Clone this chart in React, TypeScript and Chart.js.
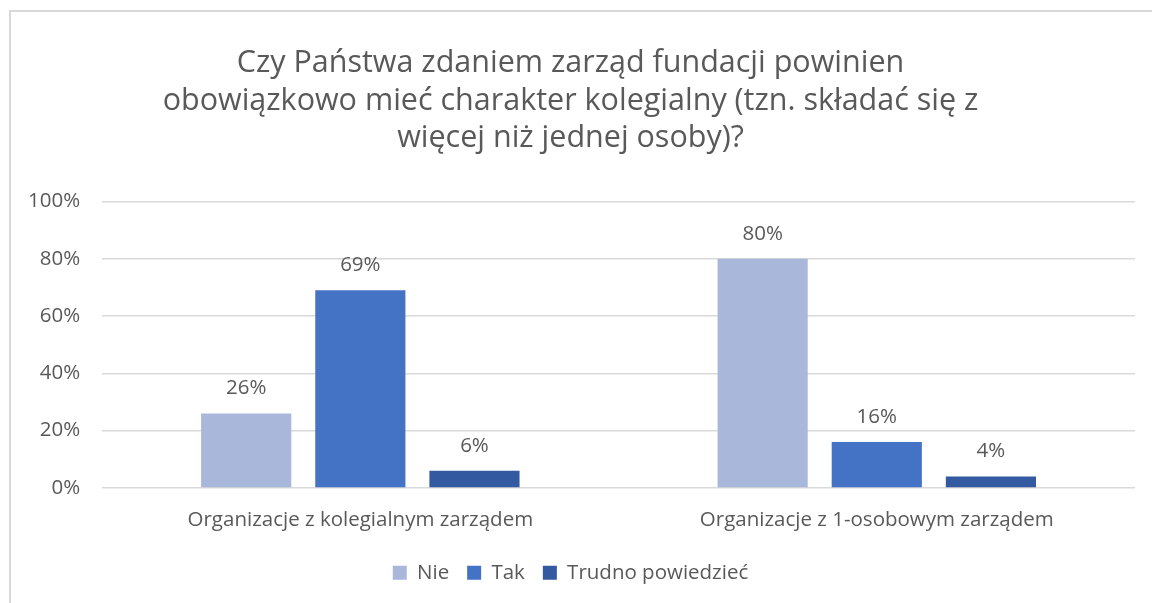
import React, { useEffect, useRef } from "react";
import { Chart, registerables } from "chart.js";

Chart.register(...registerables);

const titleLines = [
  "Czy Państwa zdaniem zarząd fundacji powinien",
  "obowiązkowo mieć charakter kolegialny (tzn. składać się z",
  "więcej niż jednej osoby)?",
];
const categories = ["Organizacje z kolegialnym zarządem", "Organizacje z 1-osobowym zarządem"];
const seriesNames = ["Nie", "Tak", "Trudno powiedzieć"];
const nieValues = [26, 80];
const takValues = [69, 16];
const trudnoValues = [6, 4];
const seriesColors = ["#A9B7DB", "#4472C4", "#335AA0"];
const yTicks = [0, 20, 40, 60, 80, 100];

const FONT = "'Open Sans', sans-serif";
const TEXT = "#595959";
const SMALL = 20.5;

const labelPlugin = {
  id: "barLabels",
  afterDatasetsDraw(chart: any) {
    const ctx = chart.ctx;
    ctx.save();
    ctx.font = `${SMALL}px ${FONT}`;
    ctx.fillStyle = TEXT;
    ctx.textAlign = "center";
    ctx.textBaseline = "alphabetic";
    chart.data.datasets.forEach((ds: any, i: number) => {
      const meta = chart.getDatasetMeta(i);
      meta.data.forEach((bar: any, j: number) => {
        ctx.fillText(`${ds.data[j]}%`, bar.x, bar.y - 19);
      });
    });
    ctx.restore();
  },
};

export default function App() {
  const ref = useRef<HTMLCanvasElement>(null);
  useEffect(() => {
    if (!ref.current) return;
    const chart = new Chart(ref.current, {
      type: "bar",
      data: {
        labels: categories,
        datasets: [nieValues, takValues, trudnoValues].map((d, i) => ({
          label: seriesNames[i],
          data: d,
          backgroundColor: seriesColors[i],
          categoryPercentage: 0.663,
          barPercentage: 0.79,
        })),
      },
      options: {
        animation: false,
        responsive: false,
        layout: { padding: { left: 6, right: 17, top: 0, bottom: 10 } },
        plugins: {
          title: {
            display: true,
            text: titleLines,
            color: TEXT,
            font: { family: FONT, size: 30.5, weight: "normal", lineHeight: 1.23 },
            padding: { top: 45, bottom: 44 },
          },
          legend: {
            position: "bottom",
            labels: {
              color: TEXT,
              font: { family: FONT, size: SMALL },
              boxWidth: 14,
              boxHeight: 14,
              padding: 18,
            },
          },
          tooltip: { enabled: false },
        },
        scales: {
          x: {
            grid: { display: false },
            border: { display: false },
            ticks: { color: TEXT, font: { family: FONT, size: SMALL }, padding: 12 },
          },
          y: {
            min: 0,
            max: 100,
            afterBuildTicks: (axis: any) => {
              axis.ticks = yTicks.map((v) => ({ value: v }));
            },
            grid: { color: "#D9D9D9", lineWidth: 1.5, drawTicks: false },
            border: { display: false },
            ticks: {
              color: TEXT,
              font: { family: FONT, size: SMALL },
              padding: 22,
              callback: (v: any) => `${v}%`,
            },
          },
        },
      },
      plugins: [labelPlugin],
    });
    return () => chart.destroy();
  }, []);
  return (
    <div style={{ position: "fixed", left: 0, top: 0, width: 1152, height: 603, overflow: "hidden", background: "#fff" }}>
      <div
        style={{
          position: "absolute",
          left: 9,
          top: 10,
          width: 1200,
          height: 700,
          borderLeft: "2px solid #D9D9D9",
          borderTop: "2px solid #D9D9D9",
        }}
      />
      <canvas ref={ref} width={1152} height={603} style={{ position: "absolute", left: 0, top: 0 }} />
    </div>
  );
}
